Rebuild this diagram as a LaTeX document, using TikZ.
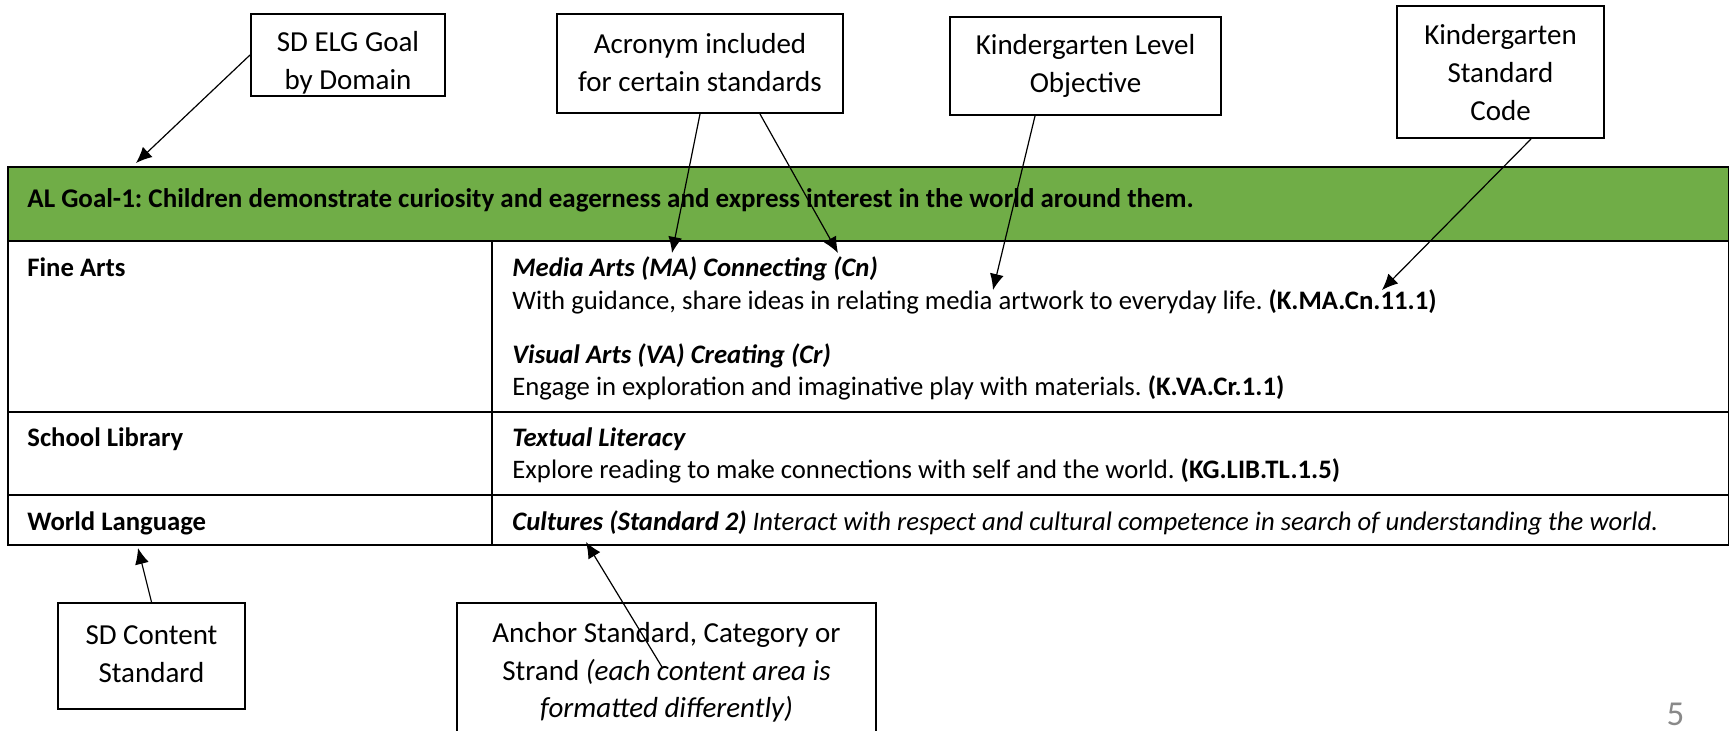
\documentclass[tikz,border=0pt]{standalone}
\usepackage{fontspec}
\setmainfont{Carlito}
\usetikzlibrary{arrows.meta}
\definecolor{goalgreen}{HTML}{70AD47}
\definecolor{pagegray}{HTML}{898989}
\frenchspacing
\begin{document}
\begin{tikzpicture}[x=0.5pt,y=-0.5pt,
  callout/.style={draw=black,line width=1pt,fill=white,inner sep=0pt},
  calltext/.style={font=\fontsize{14.5}{19}\selectfont,align=center,inner sep=0pt},
  arr/.style={-{Latex[length=8pt,width=7pt]},line width=0.6pt},
  tline/.style={line width=1.3pt},
  cell/.style={anchor=base west,inner sep=0pt,font=\fontsize{13.35}{15}\selectfont},
  cellb/.style={cell,font=\fontsize{13.35}{15}\selectfont\bfseries},
  head/.style={anchor=base west,inner sep=0pt,font=\fontsize{13.5}{15}\selectfont\bfseries}]
\useasboundingbox (0,0) rectangle (1730,730);
% table
\fill[goalgreen] (8,167) rectangle (1729,241);
\draw[tline] (1729,167) -- (8,167) -- (8,545) -- (1729,545);
\draw[tline] (8,241) -- (1729,241);
\draw[tline] (8,412) -- (1729,412);
\draw[tline] (8,495) -- (1729,495);
\draw[tline] (492,241) -- (492,545);
\draw[line width=0.6pt] (1728.5,167) -- (1728.5,545);
% table texts
\node[head] (goal) at (27,207.5) {AL Goal-1: Children demonstrate curiosity and eagerness and express interest in the world around them.};
\node[cellb] (fa) at (27,276.5) {Fine Arts};
\node[cell] (ma) at (512,276.5) {\textbf{\textit{Media Arts (MA) Connecting (Cn)}}};
\node[cell] (mat) at (512,309.5) {With guidance, share ideas in relating media artwork to everyday life. \textbf{(K.MA.Cn.11.1)}};
\node[cell] (va) at (512,363.5) {\textbf{\textit{Visual Arts (VA) Creating (Cr)}}};
\node[cell] (vat) at (512,395.5) {Engage in exploration and imaginative play with materials. \textbf{(K.VA.Cr.1.1)}};
\node[cellb] (sl) at (27,446.5) {School Library};
\node[cell] (tl) at (512,446.5) {\textbf{\textit{Textual Literacy}}};
\node[cell] (tlt) at (512,478.5) {Explore reading to make connections with self and the world. \textbf{(KG.LIB.TL.1.5)}};
\node[cellb] (wl) at (27,530.5) {World Language};
\node[cell] (cu) at (512,530.5) {\textbf{\textit{Cultures (Standard 2)}} \textit{Interact with respect and cultural competence in search of understanding the world.}};
% callouts
\node[callout,minimum width=97pt,minimum height=41pt,label={[calltext,yshift=-4pt]center:{SD ELG Goal\\by Domain}}] (elg) at (348,55) {};
\node[callout,minimum width=143pt,minimum height=49.5pt,label={[calltext,yshift=0.5pt]center:{Acronym included\\for certain standards}}] (acr) at (700,63.5) {};
\node[callout,minimum width=135.5pt,minimum height=49pt,label={[calltext]center:{Kindergarten Level\\Objective}}] (klo) at (1085.5,66) {};
\node[callout,minimum width=103.5pt,minimum height=66pt,label={[calltext,yshift=-0.5pt]center:{Kindergarten\\Standard\\Code}}] (ksc) at (1500.5,72) {};
\node[callout,minimum width=93.5pt,minimum height=53pt,label={[calltext,yshift=0.75pt]center:{SD Content\\Standard}}] (sdc) at (151.5,656) {};
\node[callout,minimum width=209.5pt,minimum height=68.5pt,label={[calltext,font=\fontsize{14.5}{18.75}\selectfont,yshift=-0.5pt]center:{Anchor Standard, Category or\\Strand \textit{(each content area is}\\\textit{formatted differently)}}}] (anc) at (666.5,671.5) {};
% page number
\node[anchor=base,font=\fontsize{17.5}{19}\selectfont,text=pagegray,inner sep=0pt] (pg) at (1675.5,725) {5};
% arrow ends
\coordinate (tElg) at (136,163);
\coordinate (tMA) at (672,253);
\coordinate (tCn) at (838,253);
\coordinate (tObj) at (993,290);
\coordinate (tCode) at (1382,290);
\coordinate (tSdc) at (138,548);
\coordinate (tAnc) at (586,542);
\coordinate (ancStart) at (662,667);
% arrows
\draw[arr] (elg.west) -- (tElg);
\draw[arr] (acr.south) -- (tMA);
\draw[arr] ([xshift=30pt]acr.south) -- (tCn);
\draw[arr] ([xshift=-25.25pt]klo.south) -- (tObj);
\draw[arr] ([xshift=15.25pt]ksc.south) -- (tCode);
\draw[arr] (sdc.north) -- (tSdc);
\draw[arr] (ancStart) -- (tAnc);
\end{tikzpicture}
\end{document}
